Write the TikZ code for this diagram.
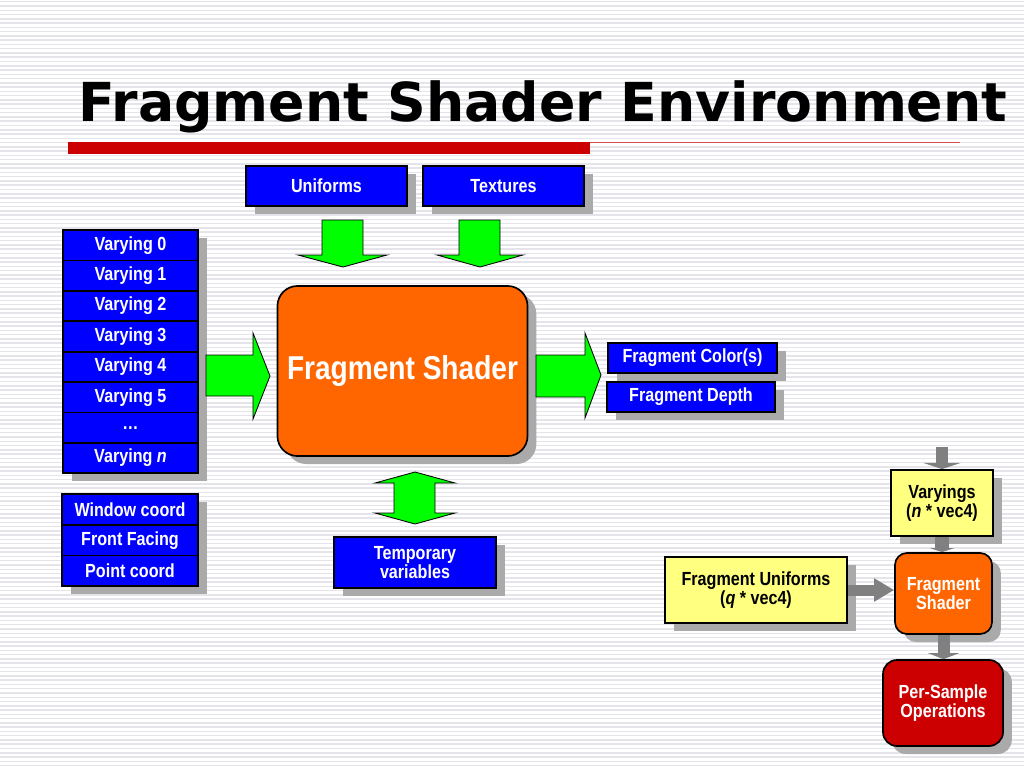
\documentclass[tikz,border=0pt]{standalone}
\usepackage{fontspec}
\setmainfont{Liberation Sans}
\newfontfamily\narrowsans[FakeStretch=0.85]{Liberation Sans}
\newfontfamily\headsans{DejaVu Sans}
\usetikzlibrary{arrows.meta,shadows}

\definecolor{bgline}{RGB}{228,228,234}
\definecolor{boxblue}{RGB}{0,0,255}
\definecolor{shgreen}{RGB}{0,255,0}
\definecolor{shorange}{RGB}{255,102,0}
\definecolor{opred}{RGB}{204,0,0}
\definecolor{noteyellow}{RGB}{255,255,128}
\definecolor{shadowgray}{RGB}{170,170,170}
\definecolor{linkgray}{RGB}{128,128,128}

\tikzset{
  boxshadow/.style={drop shadow={shadow xshift=2.2mm, shadow yshift=-2mm, fill=shadowgray, opacity=1}},
  box/.style={draw=black, line width=1.2pt, inner sep=0pt, align=center,
    font=\narrowsans\bfseries\fontsize{13.5}{14}\selectfont, boxshadow},
  bluebox/.style={box, fill=boxblue, text=white},
  notebox/.style={box, fill=noteyellow, text=black},
  shaderbox/.style={box, fill=shorange, text=white, rounded corners=5mm},
  fatarrow/.style={draw=black, fill=shgreen, line width=0.6pt},
  link/.style={draw=linkgray, line width=3mm},
}

\begin{document}
\begin{tikzpicture}[x=0.025cm, y=-0.025cm]
% page with ruled lines
\fill[white] (0,0) rectangle (1024,768);
\foreach \i in {0,...,179}
  \fill[bgline] (0,\i*4.267+1) rectangle (1024,\i*4.267+2.5);
\useasboundingbox (0,0) rectangle (1024,768);

% title
\node[anchor=base west, inner sep=0pt, font=\headsans\bfseries\fontsize{38.2}{44}\selectfont] (title) at (78,122) {Fragment Shader Environment};
\fill[opred] (68,142) rectangle (590,154);
\draw[opred!70, line width=0.5pt] (590,142.5) -- (960,142.5);

% inputs
\node[bluebox, minimum width=40.25mm, minimum height=10mm] (unif) at (326.5,186) {Uniforms};
\node[bluebox, minimum width=40.25mm, minimum height=10mm] (tex) at (503.5,186) {Textures};

\foreach \lab [count=\i from 0] in {Varying 0,Varying 1,Varying 2,Varying 3,Varying 4,Varying 5,…,Varying \textit{n}}
  \node[bluebox, minimum width=33.75mm, minimum height=7.6mm] (v\i) at (130.5,245.3+30.4*\i) {\lab};

\foreach \lab [count=\i from 0] in {Window coord,Front Facing,Point coord}
  \node[bluebox, minimum width=34mm, minimum height=7.7mm] (w\i) at (130,509.5+30.7*\i) {\lab};

% shader and outputs
\node[shaderbox, minimum width=62.5mm, minimum height=42.5mm,
  font=\narrowsans\bfseries\fontsize{23.5}{26}\selectfont] (fs) at (402.5,371) {Fragment Shader};

\node[bluebox, minimum width=42.25mm, minimum height=7.5mm] (col) at (692.5,358) {Fragment Color(s)};
\node[bluebox, minimum width=42mm, minimum height=7.5mm] (depth) at (691,397) {Fragment Depth};
\node[bluebox, minimum width=40.5mm, minimum height=12.75mm] (temp) at (415,562.5) {Temporary\\variables};

% green block arrows
\draw[fatarrow] (322,220) -- (363,220) -- (363,255) -- (387,255) -- (343,267) -- (298,255) -- (322,255) -- cycle;
\draw[fatarrow] (459,220) -- (500,220) -- (500,255) -- (523,255) -- (480,267) -- (437,255) -- (459,255) -- cycle;
\draw[fatarrow] (206,355) -- (253,355) -- (253,333) -- (270,376) -- (253,419) -- (253,396) -- (206,396) -- cycle;
\draw[fatarrow] (536,355) -- (585,355) -- (585,333) -- (601,375) -- (585,418) -- (585,397) -- (536,397) -- cycle;
\draw[fatarrow] (415,472) -- (455,483) -- (435,483) -- (435,513) -- (455,513) -- (415,524)
  -- (375,513) -- (394,513) -- (394,483) -- (375,483) -- cycle;

% small pipeline
\coordinate (vin) at (942,447);
\node[notebox, minimum width=25.5mm, minimum height=16.5mm] (vary) at (942,503) {Varyings\\(\textit{n} * vec4)};
\node[notebox, minimum width=45.5mm, minimum height=16.5mm] (funi) at (756,590) {Fragment Uniforms\\(\textit{q} * vec4)};
\node[shaderbox, rounded corners=3mm, minimum width=24.25mm, minimum height=20.25mm] (fs2) at (943.5,593.5) {Fragment\\Shader};
\node[box, fill=opred, text=white, rounded corners=3.5mm, minimum width=30mm, minimum height=21.5mm] (pso) at (943,703) {Per-Sample\\Operations};

\draw[link, -{Triangle[length=1.6mm, width=9.5mm]}] (vin) -- (vary.north);
\draw[link, line width=3.5mm, -{Triangle[length=1mm, width=6mm]}] (vary.south) -- (vary.south |- fs2.north);
\draw[link, line width=2.75mm, -{Triangle[length=5mm, width=5.5mm]}] (funi.east) -- (funi.east -| fs2.west);
\draw[link, -{Triangle[length=1.5mm, width=7.75mm]}] (fs2.south) -- (fs2.south |- pso.north);
\end{tikzpicture}
\end{document}
